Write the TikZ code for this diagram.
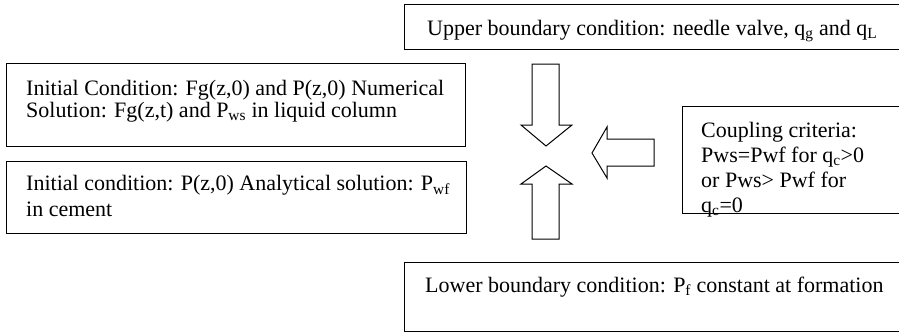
\documentclass[tikz,border=0pt]{standalone}
\usepackage{fontspec}
\setmainfont{Liberation Serif}

\tikzset{box/.style={draw, line width=1.3pt, anchor=north west, inner sep=0pt},
         txt/.style={anchor=base west, inner sep=0pt, align=left,
                     font=\fontsize{22}{22}\selectfont},
         blockarrow/.style={draw, line width=1pt, line join=miter}}

\begin{document}
\begin{tikzpicture}[x=1pt,y=-1pt]
\useasboundingbox (0,0) rectangle (899,332);
% boxes
\node [box, minimum width=498pt, minimum height=45pt] (upper) at (404,4) {};
\node [box, minimum width=459pt, minimum height=83pt] (initcol) at (6,63) {};
\node [box, minimum width=460pt, minimum height=72pt] (initcem) at (6,161) {};
\node [box, minimum width=220pt, minimum height=107pt] (coupling) at (682,106) {};
\node [box, minimum width=498pt, minimum height=69pt] (lower) at (404,262) {};
% texts (base = last line)
\node [txt] (uppertxt) at (427,35) {Upper boundary condition: needle valve, q\textsubscript{g} and q\textsubscript{L}};
\node [txt] (initcoltxt) at (26,117) {Initial Condition: Fg(z,0) and P(z,0) Numerical\\Solution: Fg(z,t) and P\textsubscript{ws} in liquid column};
\node [txt, font=\fontsize{22}{26}\selectfont] (initcemtxt) at (26,216.5) {Initial condition: P(z,0) Analytical solution: P\textsubscript{wf}\\in cement};
\node [txt, font=\fontsize{22}{25}\selectfont] (couplingtxt) at (701,212) {Coupling criteria:\\Pws=Pwf for q\textsubscript{c}>0\\or Pws> Pwf for\\q\textsubscript{c}=0};
\node [txt] (lowertxt) at (425,292) {Lower boundary condition: P\textsubscript{f} constant at formation};
% block arrows
\draw [blockarrow] (532,64) -- (559,64) -- (559,125) -- (572,125) -- (546,146)
  -- (521,125) -- (532,125) -- cycle;
\draw [blockarrow] (532,239) -- (559,239) -- (559,184) -- (572,184) -- (546,166)
  -- (521,184) -- (532,184) -- cycle;
\draw [blockarrow] (654,139) -- (654,166) -- (607,166) -- (607,178) -- (592,153)
  -- (607,127) -- (607,139) -- cycle;
\end{tikzpicture}
\end{document}
